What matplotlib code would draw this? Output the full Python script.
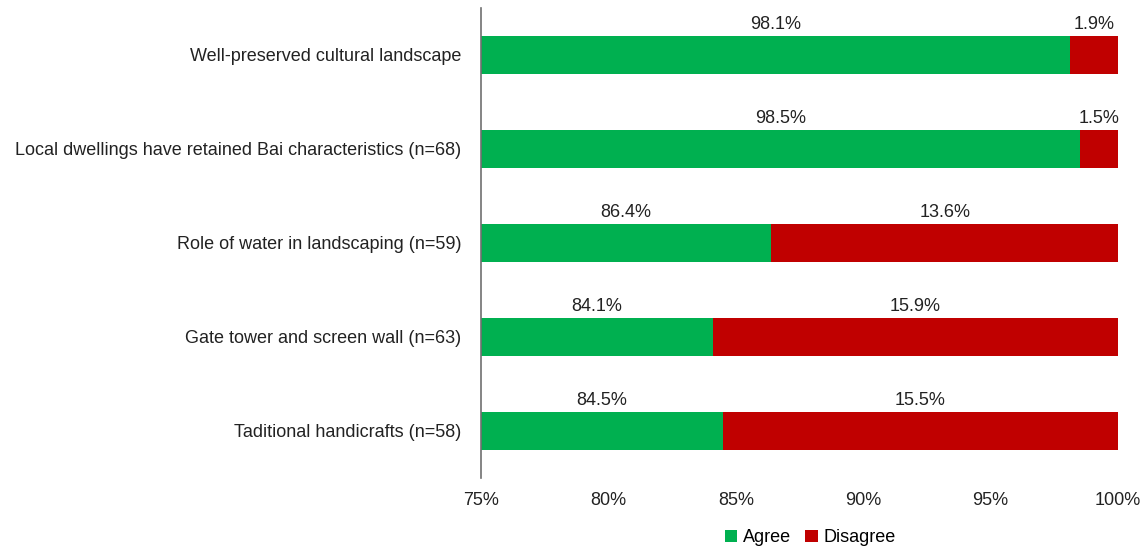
import matplotlib.pyplot as plt
from matplotlib.ticker import FuncFormatter

plt.rcParams['font.family'] = ['Liberation Sans', 'DejaVu Sans']

categories = [
    "Well-preserved cultural landscape",
    "Local dwellings have retained Bai characteristics (n=68)",
    "Role of water in landscaping (n=59)",
    "Gate tower and screen wall (n=63)",
    "Taditional handicrafts (n=58)",
]
agree = [98.1, 98.5, 86.4, 84.1, 84.5]
disagree = [1.9, 1.5, 13.6, 15.9, 15.5]

green = '#00B050'
red = '#C00000'
xmin, xmax = 75, 100
fs = 13

fig = plt.figure(figsize=(11.46, 5.5), dpi=100)
ax = fig.add_axes([0.4197, 0.131, 0.9756 - 0.4197, 0.9855 - 0.131])

y = list(range(len(categories)))
h = 0.4
ax.barh(y, agree, height=h, color=green, label='Agree')
ax.barh(y, disagree, left=agree, height=h, color=red, label='Disagree')

# labels sit above each visible segment
for yi, a, d in zip(y, agree, disagree):
    ax.text((xmin + a) / 2, yi - h / 2 - 0.03, f"{a:.1f}%", ha='center', va='bottom',
            fontsize=fs, color='#222222')
    ax.text((a + xmax) / 2, yi - h / 2 - 0.03, f"{d:.1f}%", ha='center', va='bottom',
            fontsize=fs, color='#222222')

ax.set_xlim(xmin, xmax)
ax.set_ylim(len(categories) - 0.5, -0.5)
ax.set_yticks(y)
ax.set_yticklabels(categories, fontsize=fs, color='#222222')
ax.set_xticks([75, 80, 85, 90, 95, 100])
ax.xaxis.set_major_formatter(FuncFormatter(lambda v, p: f"{v:.0f}%"))
ax.tick_params(axis='x', length=0, pad=10, labelsize=fs, labelcolor='#222222')
ax.tick_params(axis='y', length=0, pad=14)

for s in ['top', 'right', 'bottom']:
    ax.spines[s].set_visible(False)
ax.spines['left'].set_color('#707070')
ax.spines['left'].set_linewidth(1.2)

ax.legend(loc='center', bbox_to_anchor=(0.707, 0.022), bbox_transform=fig.transFigure,
          ncol=2, frameon=False, fontsize=fs, handlelength=0.7, handleheight=0.7,
          handletextpad=0.3, columnspacing=0.8, borderpad=0)

fig.savefig('out.png', dpi=100)
